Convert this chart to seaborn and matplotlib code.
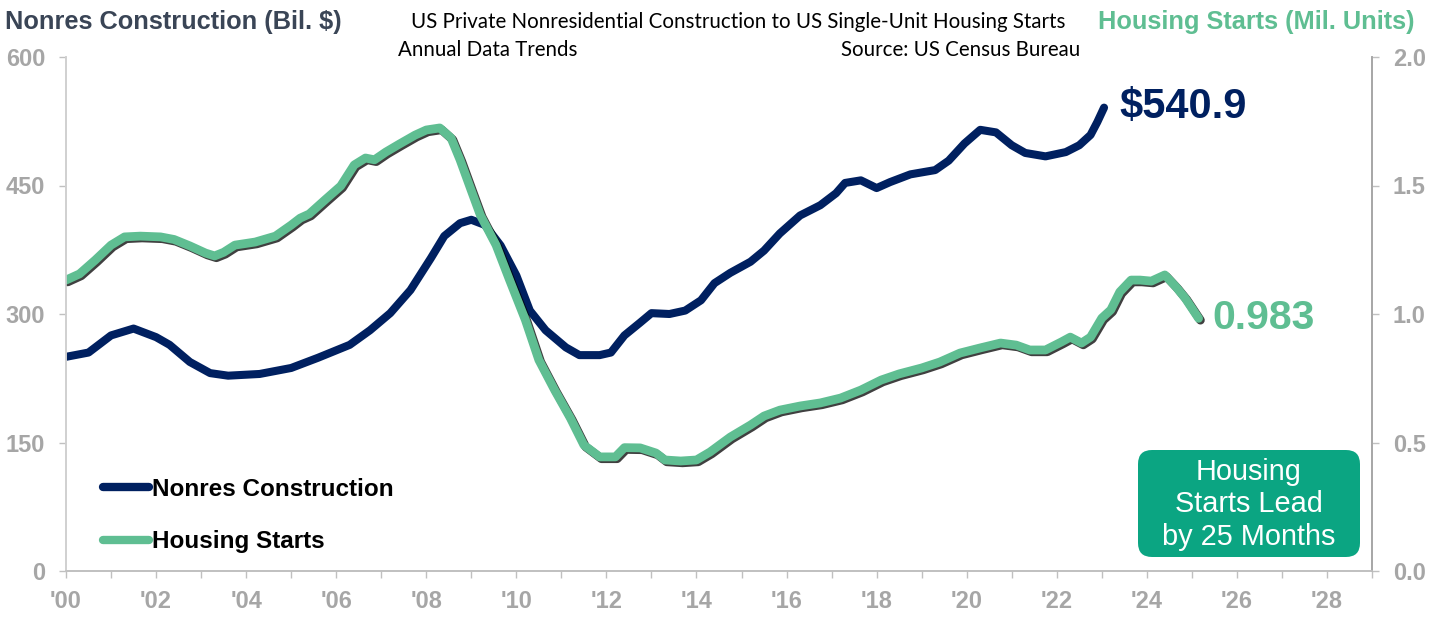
import numpy as np
import pandas as pd
import matplotlib
matplotlib.use("Agg")
import matplotlib.pyplot as plt
import matplotlib.patheffects as pe
import matplotlib.transforms as mtransforms
from matplotlib.patches import FancyBboxPatch
from matplotlib.lines import Line2D
from matplotlib.ticker import MultipleLocator, FixedLocator, FixedFormatter
import seaborn as sns

# ---------------- data ----------------
nonres_year = [2000.0, 2000.5, 2001.0, 2001.5, 2002.0, 2002.3, 2002.75, 2003.2, 2003.6, 2004.3,
               2005.0, 2005.6, 2006.3, 2006.75, 2007.2, 2007.65, 2008.1, 2008.4, 2008.75, 2009.0,
               2009.3, 2009.65, 2010.0, 2010.3, 2010.65, 2011.1, 2011.4, 2011.85, 2012.1, 2012.4,
               2012.75, 2013.0, 2013.4, 2013.75, 2014.1, 2014.4, 2014.75, 2015.2, 2015.5, 2015.85,
               2016.3, 2016.75, 2017.1, 2017.3, 2017.65, 2018.0, 2018.3, 2018.75, 2019.3, 2019.6,
               2019.95, 2020.3, 2020.65, 2021.0, 2021.3, 2021.75, 2022.2, 2022.5, 2022.75, 2022.9,
               2023.05]
nonres_value = [250, 255, 275, 283, 273, 264, 244, 231, 228, 230,
                237, 249, 264, 281, 301, 328, 365, 391, 406, 410,
                404, 380, 345, 304, 281, 261, 252, 252, 255, 275,
                290, 301, 300, 304, 316, 336, 348, 361, 374, 394,
                415, 427, 441, 453, 456, 447, 454, 463, 468, 479,
                499, 515, 512, 497, 488, 484, 489, 497, 509, 524,
                540.9]

housing_year = [2000.0, 2000.3, 2000.65, 2001.0, 2001.3, 2001.65, 2002.1, 2002.4, 2002.75, 2003.1,
                2003.3, 2003.5, 2003.75, 2004.2, 2004.65, 2005.0, 2005.2, 2005.4, 2005.75, 2006.1,
                2006.4, 2006.65, 2006.85, 2007.1, 2007.4, 2007.75, 2008.0, 2008.3, 2008.55, 2008.75,
                2009.0, 2009.2, 2009.55, 2009.85, 2010.2, 2010.5, 2010.85, 2011.2, 2011.5, 2011.85,
                2012.2, 2012.4, 2012.75, 2013.1, 2013.3, 2013.65, 2014.0, 2014.3, 2014.75, 2015.2,
                2015.5, 2015.85, 2016.3, 2016.75, 2017.2, 2017.65, 2018.1, 2018.5, 2019.0, 2019.4,
                2019.85, 2020.3, 2020.75, 2021.1, 2021.4, 2021.75, 2022.1, 2022.3, 2022.55, 2022.75,
                2023.0, 2023.2, 2023.4, 2023.65, 2023.85, 2024.1, 2024.3, 2024.4, 2024.65, 2024.85,
                2025.15]
housing_value = [1.132, 1.156, 1.21, 1.268, 1.30, 1.303, 1.30, 1.29, 1.265, 1.237,
                 1.226, 1.24, 1.268, 1.28, 1.303, 1.346, 1.373, 1.389, 1.444, 1.498,
                 1.58, 1.607, 1.60, 1.63, 1.661, 1.696, 1.716, 1.724, 1.685, 1.60,
                 1.48, 1.385, 1.268, 1.132, 0.977, 0.821, 0.704, 0.595, 0.49, 0.444,
                 0.444, 0.48, 0.479, 0.459, 0.432, 0.428, 0.432, 0.463, 0.521, 0.568,
                 0.603, 0.626, 0.642, 0.654, 0.673, 0.704, 0.743, 0.767, 0.79, 0.813,
                 0.848, 0.868, 0.887, 0.879, 0.86, 0.86, 0.891, 0.91, 0.887, 0.91,
                 0.984, 1.016, 1.086, 1.132, 1.132, 1.128, 1.144, 1.152, 1.105, 1.062,
                 0.983]

x_major_ticks = list(range(2000, 2029, 2))
x_tick_labels = ["'00", "'02", "'04", "'06", "'08", "'10", "'12", "'14", "'16", "'18",
                 "'20", "'22", "'24", "'26", "'28"]
left_ticks = [0, 150, 300, 450, 600]
right_ticks = [0.0, 0.5, 1.0, 1.5, 2.0]

nonres_df = pd.DataFrame({"year": nonres_year, "value": nonres_value})
housing_df = pd.DataFrame({"year": housing_year, "value": housing_value})

# ---------------- style ----------------
sns.set_theme(style="white")
plt.rcParams["font.family"] = ["Liberation Sans", "DejaVu Sans"]

NAVY = "#002060"
GREEN = "#5fbe92"
BOX_GREEN = "#0ba582"
TICK_GRAY = "#a6a6a6"
SPINE_GRAY = "#c0c0c0"

W, H = 1430, 617
fig = plt.figure(figsize=(W / 100, H / 100), dpi=100)
fig.patch.set_facecolor("white")

ax_left, ax_right_px, ax_bottom_px, ax_top_px = 66, 1372, 571, 57
ax = fig.add_axes([ax_left / W, 1 - ax_bottom_px / H,
                   (ax_right_px - ax_left) / W, (ax_bottom_px - ax_top_px) / H])
ax2 = ax.twinx()

sns.lineplot(data=nonres_df, x="year", y="value", ax=ax, color=NAVY, lw=5.8,
             solid_capstyle="round", legend=False)
sns.lineplot(data=housing_df, x="year", y="value", ax=ax2, color=GREEN, lw=6.3,
             solid_capstyle="round", legend=False,
             path_effects=[pe.SimpleLineShadow(offset=(1.3, -1.3), shadow_color="black", alpha=0.75),
                           pe.Normal()])

ax.set_xlim(2000, 2029)
ax.set_ylim(0, 600)
ax2.set_ylim(0, 2.0)
for a in (ax, ax2):
    a.set_xlabel("")
    a.set_ylabel("")
    a.grid(False)
    a.set_facecolor("none")

ax.xaxis.set_major_locator(FixedLocator(x_major_ticks))
ax.xaxis.set_major_formatter(FixedFormatter(x_tick_labels))
ax.xaxis.set_minor_locator(MultipleLocator(1))
ax.set_yticks(left_ticks)
ax.set_yticklabels([str(v) for v in left_ticks])
ax2.set_yticks(right_ticks)
ax2.set_yticklabels([f"{v:.1f}" for v in right_ticks])

ax.tick_params(axis="x", which="major", direction="out", length=5, width=1, color=SPINE_GRAY,
               pad=9, labelsize=17, labelcolor=TICK_GRAY, bottom=True)
ax.tick_params(axis="x", which="minor", direction="out", length=5, width=1, color=SPINE_GRAY,
               bottom=True)
ax.tick_params(axis="y", direction="out", length=5, width=1, color=SPINE_GRAY, pad=10,
               labelsize=17, labelcolor=TICK_GRAY, left=True)
ax2.tick_params(axis="y", direction="out", length=5, width=1, color=SPINE_GRAY, pad=10,
                labelsize=17, labelcolor=TICK_GRAY, right=True)
for lab in ax.get_xticklabels() + ax.get_yticklabels() + ax2.get_yticklabels():
    lab.set_fontweight("bold")

for a in (ax, ax2):
    a.spines["top"].set_visible(False)
    a.spines["left"].set_color("#d0d0d0")
    a.spines["right"].set_color("#a6a6a6")
    a.spines["bottom"].set_color(SPINE_GRAY)
    for s in ("left", "right", "bottom"):
        a.spines[s].set_linewidth(1.2)

# end labels
ax.text(2023.4, nonres_value[-1] + 1, f"${nonres_value[-1]:.1f}", color=NAVY, fontsize=30,
        fontweight="bold", ha="left", va="center")
ax2.text(2025.45, housing_value[-1], f"{housing_value[-1]:.3f}", color=GREEN, fontsize=29.5,
         fontweight="bold", ha="left", va="center")

# titles
def fx(px):
    return px / W

def fy(py):
    return 1 - py / H

fig.text(fx(5), fy(22), "Nonres Construction (Bil. $)", fontsize=18.3, fontweight="bold",
         color="#3a4556", ha="left", va="center")
fig.text(fx(1415), fy(22), "Housing Starts (Mil. Units)", fontsize=18.3, fontweight="bold",
         color=GREEN, ha="right", va="center")
fig.text(fx(738), fy(22), "US Private Nonresidential Construction to US Single-Unit Housing Starts",
         fontsize=14.8, color="black", ha="center", va="center", family=["Lato", "DejaVu Sans"])
fig.text(fx(398), fy(50), "Annual Data Trends", fontsize=14.8, color="black", ha="left",
         va="center", family=["Lato", "DejaVu Sans"])
fig.text(fx(1080), fy(50), "Source: US Census Bureau", fontsize=14.8, color="black", ha="right",
         va="center", family=["Lato", "DejaVu Sans"])

# legend
handles = [Line2D([0], [0], color=NAVY, lw=6, solid_capstyle="round"),
           Line2D([0], [0], color=GREEN, lw=6, solid_capstyle="round")]
leg = ax2.legend(handles, ["Nonres Construction", "Housing Starts"], loc="upper left",
                 bbox_to_anchor=(fx(103), fy(478)), bbox_transform=fig.transFigure,
                 frameon=False, handlelength=1.9, handletextpad=0.1, labelspacing=1.2,
                 borderpad=0, borderaxespad=0, prop=dict(size=17.5, weight="bold"))
for t in leg.get_texts():
    t.set_color("black")

# box
x0, x1, y0, y1 = 1138, 1360, 450, 557
box = FancyBboxPatch((x0 + 14, H - y1 + 14), (x1 - x0) - 28, (y1 - y0) - 28,
                     boxstyle="round,pad=14,rounding_size=14",
                     transform=mtransforms.IdentityTransform(),
                     facecolor=BOX_GREEN, edgecolor="none", zorder=5)
fig.patches.append(box)
fig.text(fx((x0 + x1) / 2), fy((y0 + y1) / 2 + 1), "Housing\nStarts Lead\nby 25 Months",
         fontsize=20.8, color="white", ha="center", va="center", linespacing=1.2, zorder=6)

fig.savefig("out.png", dpi=100, facecolor="white")
